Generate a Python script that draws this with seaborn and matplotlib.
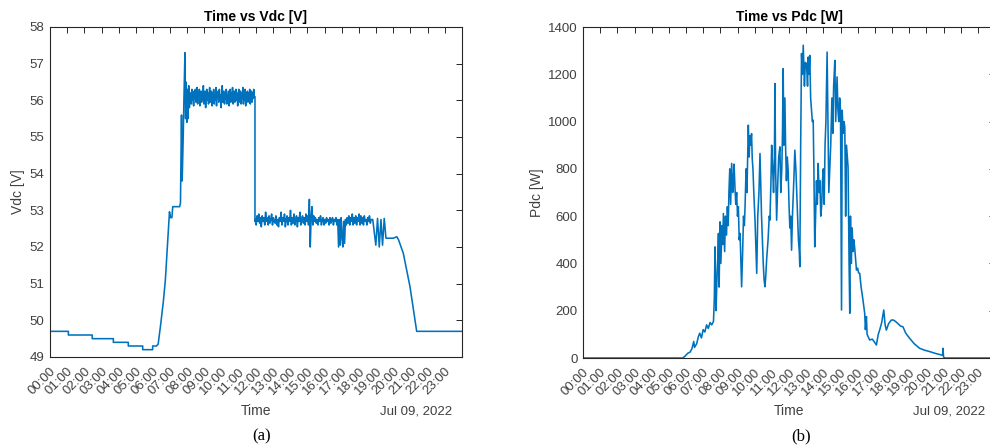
import numpy as np
import pandas as pd
import matplotlib
matplotlib.use("Agg")
import matplotlib.pyplot as plt
import matplotlib.transforms as mtransforms
import seaborn as sns

# Vdc (V) - hours of Jul 09, 2022
vdc_rise = [(0.0, 49.7), (1.07, 49.7), (1.07, 49.6), (2.46, 49.6), (2.46, 49.5),
            (3.69, 49.5), (3.69, 49.4), (4.56, 49.4), (4.56, 49.3), (5.4, 49.3),
            (5.4, 49.2), (5.98, 49.2), (5.98, 49.3), (6.2, 49.3), (6.3, 49.35),
            (6.45, 49.9), (6.6, 50.5), (6.72, 51.1), (6.82, 51.9), (6.9, 52.5),
            (6.96, 52.96), (7.02, 52.8), (7.1, 52.8), (7.15, 53.1), (7.55, 53.1),
            (7.6, 53.2), (7.66, 55.6), (7.7, 53.8), (7.76, 55.0), (7.8, 56.0),
            (7.86, 57.3), (7.9, 55.5), (7.93, 56.5), (7.97, 55.4), (8.0, 56.3),
            (8.04, 55.5), (8.08, 56.4), (8.12, 55.8), (8.16, 56.2)]

# 2-minute samples, 08:12 -> 11:54
band1_start, band1_step = 8.2, 1 / 30
band1_vals = [56.2, 55.9, 56.3, 56.0, 56.15, 55.85, 56.25, 56.05, 56.3, 55.95,
              56.1, 56.35, 55.9, 56.2, 56.0, 56.3, 55.85, 56.15, 56.25, 55.95,
              56.2, 56.05, 56.4, 55.9, 56.1, 56.25, 55.8, 56.15, 56.3, 56.0,
              56.2, 55.9, 56.15, 56.35, 55.95, 56.1, 56.25, 55.85, 56.2, 56.05,
              56.3, 55.9, 56.15, 56.0, 56.35, 55.85, 56.2, 56.1, 56.25, 55.95,
              56.3, 56.0, 56.15, 55.8, 56.2, 56.4, 55.95, 56.1, 56.25, 55.9,
              56.2, 56.05, 56.3, 55.9, 56.15, 56.0, 56.25, 55.85, 56.1, 56.3,
              55.95, 56.2, 56.05, 56.35, 55.9, 56.15, 56.25, 55.95, 56.1, 56.3,
              56.0, 56.2, 55.85, 56.15, 56.3, 55.95, 56.1, 56.25, 55.9, 56.2,
              56.05, 56.35, 55.9, 56.15, 56.0, 56.3, 55.85, 56.2, 56.1, 56.25,
              55.95, 56.2, 56.0, 56.3, 55.9, 56.15, 56.25, 55.95, 56.2, 56.05,
              56.3, 56.1]

vdc_drop = [(11.94, 56.1), (11.94, 52.7)]

# 3-minute samples, 11:58 -> 18:42
band2_start, band2_step = 11.96, 0.05
band2_vals = [52.75, 52.6, 52.85, 52.7, 52.9, 52.65, 52.8, 52.55, 52.85, 52.7,
              52.8, 52.6, 52.95, 52.7, 52.8, 52.6, 52.85, 52.65, 52.75, 52.9,
              52.6, 52.8, 52.7, 52.65, 52.85, 52.6, 52.75, 52.55, 52.8, 52.7,
              52.95, 52.6, 52.8, 52.7, 52.9, 52.55, 52.75, 52.85, 52.6, 52.8,
              52.7, 53.0, 52.6, 52.8, 52.65, 52.9, 52.6, 52.75, 52.85, 52.55,
              52.8, 52.7, 52.95, 52.6, 52.75, 52.85, 52.65, 52.8, 52.6, 52.9,
              52.7, 52.85, 52.6, 53.3, 52.0, 52.8, 53.1, 52.6, 52.85, 52.7,
              52.8, 52.65, 52.75, 52.6, 52.8, 52.7, 52.85, 52.6, 52.75, 52.8,
              52.6, 52.75, 52.65, 52.8, 52.7, 52.75, 52.6, 52.8, 52.65, 52.75,
              52.8, 52.6, 52.75, 52.7, 52.8, 52.6, 52.75, 52.0, 52.75, 52.05,
              52.8, 52.3, 52.0, 52.7, 52.1, 52.75, 52.6, 52.8, 52.65, 52.85,
              52.6, 52.8, 52.7, 52.9, 52.6, 52.8, 52.65, 52.85, 52.6, 52.8,
              52.7, 52.9, 52.6, 52.85, 52.65, 52.8, 52.6, 52.85, 52.7, 52.75,
              52.6, 52.8, 52.7, 52.85, 52.65, 52.75]

vdc_fall = [(18.8, 52.75), (18.98, 52.05), (19.08, 52.78), (19.18, 52.0),
            (19.28, 52.75), (19.37, 52.05), (19.47, 52.78), (19.57, 52.24),
            (20.0, 52.24), (20.2, 52.28), (20.3, 52.2), (20.58, 51.83),
            (20.97, 50.92), (21.36, 49.7), (24.0, 49.7)]

# Pdc (W)
pdc_points = [
    (0.0, 0), (5.81, 0), (5.95, 8), (6.1, 20), (6.24, 25), (6.35, 40), (6.45, 70), (6.5, 45), (6.62, 60), (6.72, 90),
    (6.8, 105), (6.9, 85), (7.0, 120), (7.1, 110), (7.2, 140), (7.3, 125), (7.4, 150), (7.5, 140), (7.6, 155), (7.65, 250),
    (7.69, 470), (7.75, 200), (7.8, 330), (7.85, 420), (7.89, 527), (7.93, 300), (7.98, 576), (8.03, 400), (8.1, 560), (8.14, 480),
    (8.18, 611), (8.25, 450), (8.3, 600), (8.36, 520), (8.41, 640), (8.46, 560), (8.5, 700), (8.55, 800), (8.6, 650), (8.66, 823),
    (8.72, 700), (8.77, 760), (8.8, 820), (8.85, 724), (8.9, 650), (8.95, 700), (9.0, 600), (9.05, 640), (9.1, 500), (9.15, 527),
    (9.2, 400), (9.24, 301), (9.3, 450), (9.35, 600), (9.4, 560), (9.44, 640), (9.5, 800), (9.55, 700), (9.6, 880), (9.63, 985),
    (9.68, 850), (9.72, 940), (9.75, 900), (9.82, 949), (9.86, 840), (9.9, 800), (9.95, 700), (10.02, 583), (10.08, 450), (10.12, 358),
    (10.18, 600), (10.25, 700), (10.31, 865), (10.35, 750), (10.4, 600), (10.45, 500), (10.5, 400), (10.55, 330), (10.6, 301), (10.65, 350),
    (10.7, 420), (10.78, 500), (10.85, 600), (10.89, 583), (10.95, 750), (10.99, 900), (11.05, 800), (11.1, 700), (11.15, 850), (11.18, 1161),
    (11.22, 800), (11.28, 583), (11.35, 750), (11.4, 850), (11.47, 893), (11.52, 700), (11.58, 800), (11.62, 950), (11.66, 1224), (11.7, 900),
    (11.76, 1100), (11.8, 900), (11.85, 750), (11.9, 850), (11.95, 795), (12.0, 650), (12.05, 550), (12.1, 600), (12.15, 456), (12.2, 600),
    (12.28, 750), (12.34, 879), (12.4, 800), (12.45, 700), (12.5, 600), (12.55, 500), (12.6, 450), (12.63, 386), (12.68, 900), (12.73, 1288),
    (12.78, 1200), (12.83, 1323), (12.9, 1150), (12.95, 1250), (13.02, 1245), (13.08, 1150), (13.12, 1273), (13.16, 1200), (13.21, 1280), (13.26, 1100),
    (13.31, 1048), (13.36, 1000), (13.41, 1006), (13.45, 800), (13.5, 470), (13.55, 600), (13.6, 750), (13.65, 650), (13.7, 823), (13.75, 700),
    (13.8, 750), (13.85, 600), (13.9, 640), (13.95, 750), (14.0, 800), (14.05, 650), (14.1, 900), (14.15, 1000), (14.22, 1294), (14.27, 1000),
    (14.32, 700), (14.38, 808), (14.43, 900), (14.5, 1100), (14.55, 950), (14.6, 1150), (14.67, 1259), (14.72, 1000), (14.8, 1189), (14.85, 1050),
    (14.9, 1000), (14.95, 1100), (15.0, 1050), (15.06, 203), (15.1, 1048), (15.15, 950), (15.2, 1000), (15.25, 977), (15.3, 600), (15.35, 900),
    (15.4, 850), (15.44, 808), (15.5, 400), (15.54, 189), (15.58, 600), (15.63, 400), (15.68, 550), (15.73, 450), (15.78, 500), (15.83, 463),
    (15.88, 420), (15.93, 372), (16.0, 380), (16.05, 360), (16.12, 358), (16.2, 300), (16.3, 250), (16.41, 189), (16.45, 120), (16.51, 175),
    (16.55, 100), (16.7, 76), (16.85, 80), (17.0, 65), (17.09, 55), (17.2, 100), (17.28, 118), (17.4, 150), (17.52, 203), (17.6, 140),
    (17.67, 118), (17.8, 145), (17.95, 160), (18.06, 161), (18.2, 155), (18.35, 145), (18.5, 135), (18.64, 132), (18.8, 105), (19.03, 83),
    (19.3, 60), (19.61, 41), (19.9, 33), (20.2, 27), (20.5, 20), (20.87, 13), (20.95, 12), (20.97, 41), (21.0, 5), (21.07, 0),
    (24.0, 0),
]

hour_labels = [f"{h:02d}:00" for h in range(24)]
date_label = "Jul 09, 2022"

# build the tables
band1 = [(band1_start + i * band1_step, v) for i, v in enumerate(band1_vals)]
band2 = [(band2_start + i * band2_step, v) for i, v in enumerate(band2_vals)]
vdc = pd.DataFrame(vdc_rise + band1 + vdc_drop + band2 + vdc_fall, columns=["hour", "vdc"])
pdc = pd.DataFrame(pdc_points, columns=["hour", "pdc"])

sns.set_theme(style="white")
plt.rcParams["font.family"] = ["Liberation Sans", "DejaVu Sans"]

line_c = "#0072BD"
axis_c = "#262626"
text_c = "#404040"

fig = plt.figure(figsize=(9.9, 4.48), dpi=100)
ax1 = fig.add_axes([50 / 990, 1 - 357 / 448, 412 / 990, 330 / 448])
ax2 = fig.add_axes([583 / 990, 1 - 358 / 448, 412 / 990, 331 / 448])

sns.lineplot(data=vdc, x="hour", y="vdc", ax=ax1, sort=False, estimator=None,
             color=line_c, linewidth=1.15)
sns.lineplot(data=pdc, x="hour", y="pdc", ax=ax2, sort=False, estimator=None,
             color=line_c, linewidth=1.15)

ax1.set_ylim(49, 58)
ax1.set_yticks(range(49, 59))
ax2.set_ylim(0, 1400)
ax2.set_yticks(range(0, 1401, 200))

# nudge rotated hour labels so their ends sit just right of the tick
shift = mtransforms.ScaledTranslation(4 / 100, 0, fig.dpi_scale_trans)

for ax, title, ylab in [(ax1, "Time vs Vdc [V]", "Vdc [V]"), (ax2, "Time vs Pdc [W]", "Pdc [W]")]:
    ax.set_xlim(0, 24)
    ax.set_xticks(range(24))
    ax.set_xticklabels(hour_labels, rotation=45, ha="right", va="center",
                       rotation_mode="anchor")
    ax.tick_params(direction="in", top=True, right=True, length=4, width=0.7,
                   colors=axis_c, labelcolor=text_c, labelsize=9.5, pad=4)
    ax.tick_params(axis="x", pad=9)
    for lbl in ax.get_xticklabels():
        lbl.set_transform(lbl.get_transform() + shift)
    for s in ax.spines.values():
        s.set_color(axis_c)
        s.set_linewidth(0.8)
    ax.set_title(title, fontsize=10, fontweight="bold", color="black", pad=4)
    ax.set_ylabel(ylab, fontsize=10, color=text_c, labelpad=3)
    ax.set_xlabel("")

# x labels, date and captions
fig.text(256 / 990, 1 - 411 / 448, "Time", ha="center", va="center", fontsize=10, color=text_c)
fig.text(789 / 990, 1 - 411 / 448, "Time", ha="center", va="center", fontsize=10, color=text_c)
fig.text(452 / 990, 1 - 411 / 448, date_label, ha="right", va="center", fontsize=9.5, color=text_c)
fig.text(985 / 990, 1 - 411 / 448, date_label, ha="right", va="center", fontsize=9.5, color=text_c)
fig.text(262 / 990, 1 - 436 / 448, "(a)", ha="center", va="center", fontsize=12,
         family="Liberation Serif", color="black")
fig.text(801 / 990, 1 - 436 / 448, "(b)", ha="center", va="center", fontsize=12,
         family="Liberation Serif", color="black")

fig.savefig("out.png", dpi=100)
